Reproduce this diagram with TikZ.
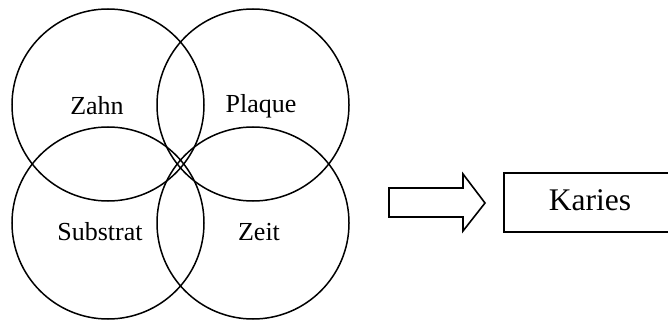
\documentclass[tikz,border=0pt]{standalone}
\usepackage{fontspec}
\setmainfont{Liberation Serif}
\begin{document}
\begin{tikzpicture}[x=1pt,y=-1pt,
  ring/.style={circle,draw,line width=1.5pt,minimum size=192pt,inner sep=0pt},
  lbl/.style={inner sep=0pt,font=\fontsize{26}{30}\selectfont},
  outline/.style={draw,line width=1.6pt,line join=miter}]
\useasboundingbox (0,0) rectangle (668,320);
\clip (0,0) rectangle (668,320);
\node[ring] (c1) at (108,105) {};
\node[ring] (c2) at (253,105) {};
\node[ring] (c3) at (108,223) {};
\node[ring] (c4) at (253,223) {};
\node[lbl] (zahn) at (97,106) {Zahn};
\node[lbl] (plaque) at (261,106) {Plaque};
\node[lbl] (substrat) at (100,232) {Substrat};
\node[lbl] (zeit) at (259,232) {Zeit};
\draw[outline] (389,188) -- (463,188) -- (463,174) -- (485,203) -- (463,231) -- (463,217) -- (389,217) -- cycle;
\draw[outline,line width=2pt] (504,173) rectangle (700,232);
\node[inner sep=0pt,font=\fontsize{31.5}{36}\selectfont] (karies) at (590,200) {Karies};
\end{tikzpicture}
\end{document}
